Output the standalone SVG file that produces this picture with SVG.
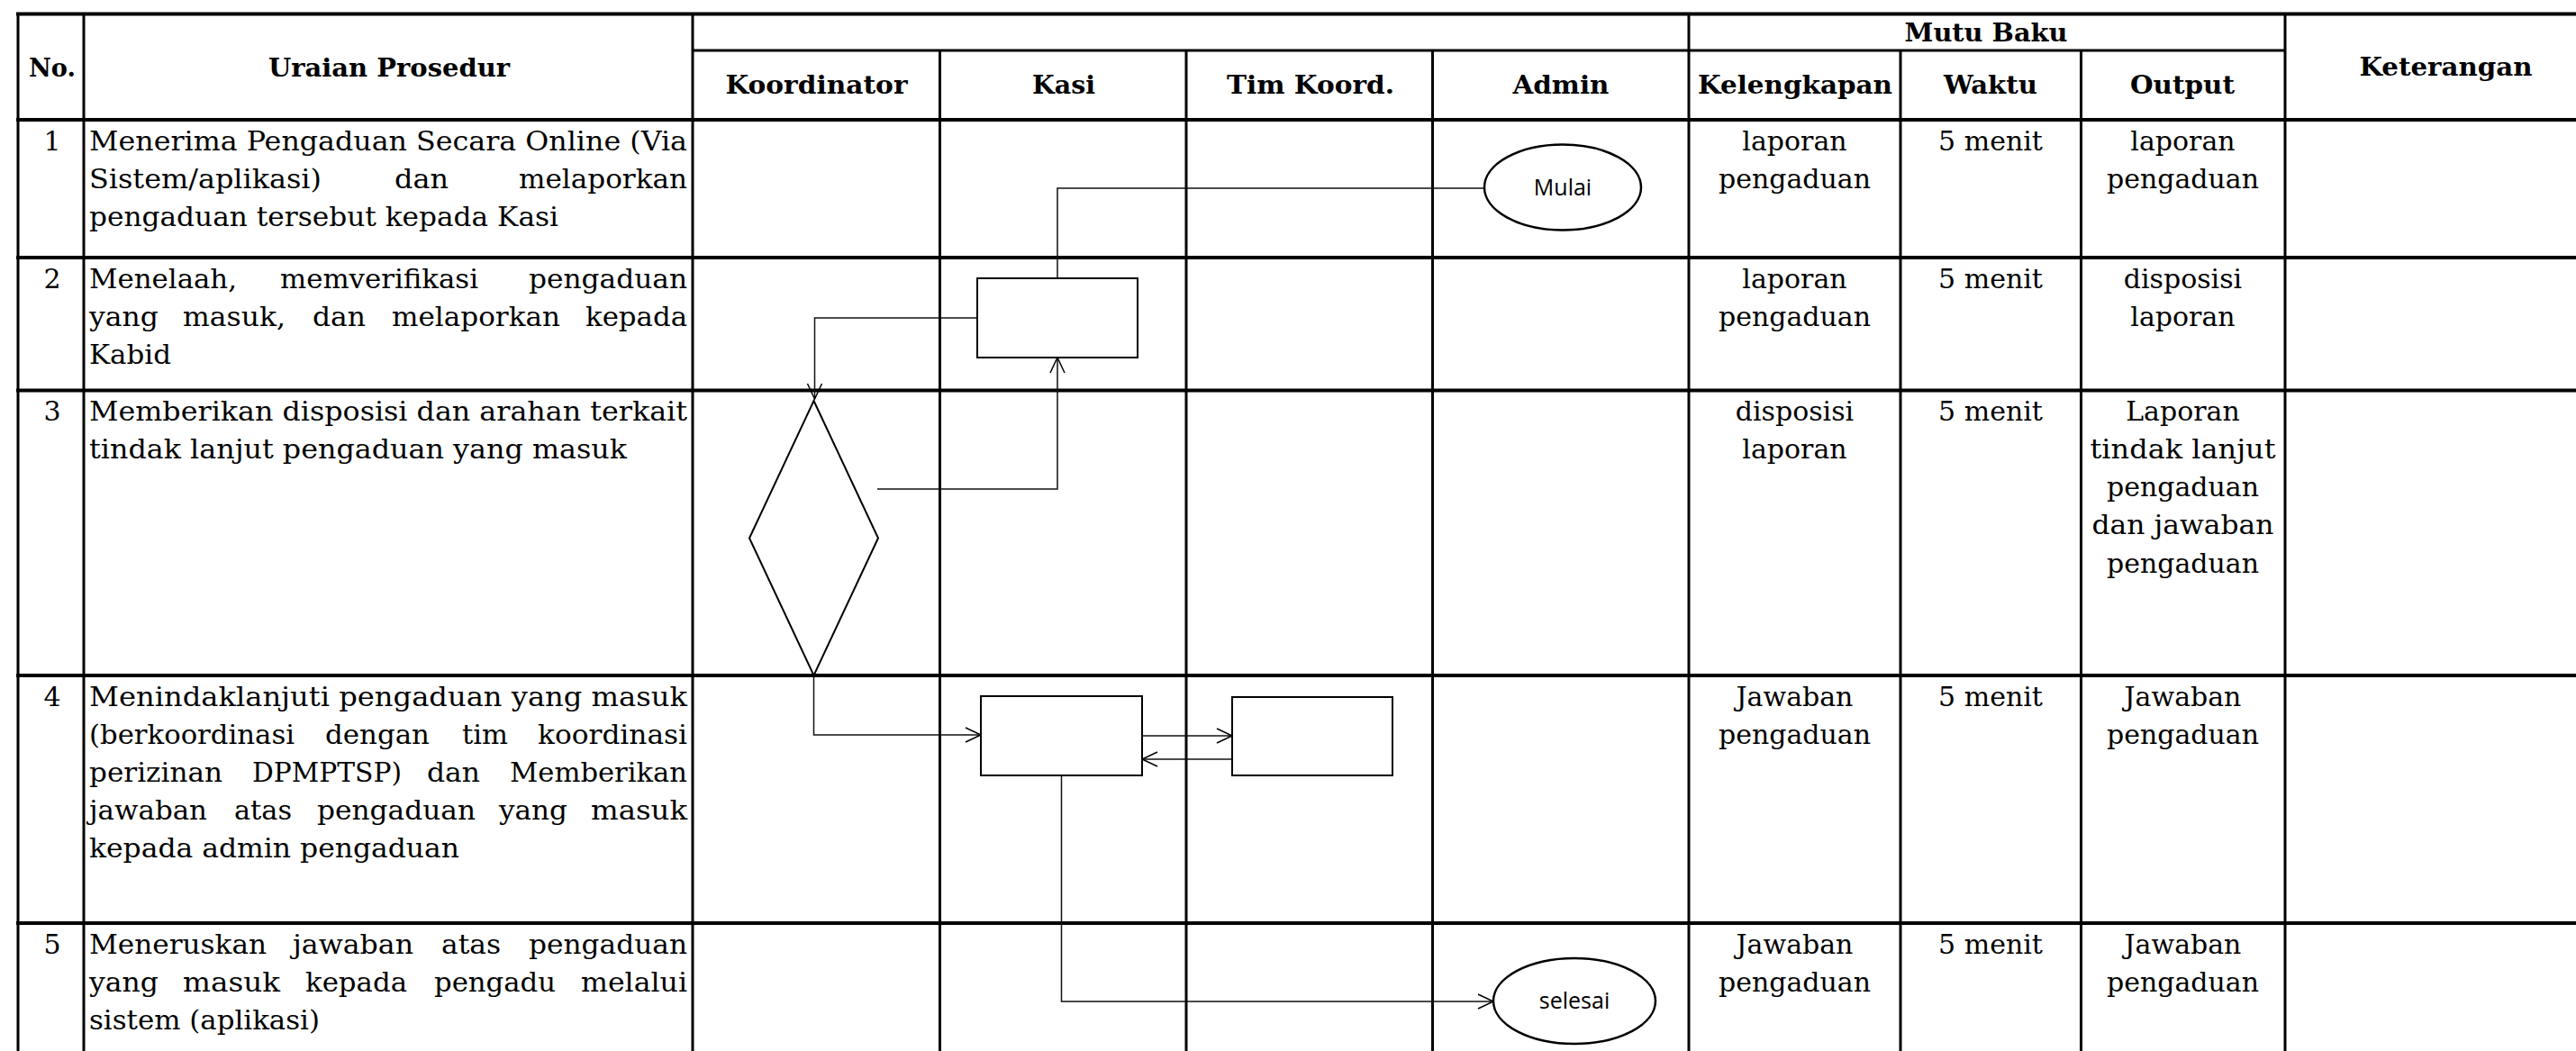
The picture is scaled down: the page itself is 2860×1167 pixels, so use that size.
<svg xmlns="http://www.w3.org/2000/svg" width="2860" height="1167" viewBox="0 0 2860 1167">
<style>
.bg{fill:#fff}
.hl{stroke:#000;stroke-width:4;fill:none}
.hs{stroke:#000;stroke-width:3;fill:none}
.vl{stroke:#000;stroke-width:3;fill:none}
.t{font-family:"DejaVu Serif","Liberation Serif",serif;font-size:30px;fill:#000}
.c{text-anchor:middle}
.h{font-family:"DejaVu Serif","Liberation Serif",serif;font-size:28px;font-weight:bold;fill:#000;text-anchor:middle}
.s{font-family:"Open Sans","Liberation Sans",sans-serif;font-size:25px;fill:#000;text-anchor:middle}
.shape{fill:#fff;stroke:#000;stroke-width:2}
.oval{fill:#fff;stroke:#000;stroke-width:2.5}
.con{fill:none;stroke:#111;stroke-width:1.5}
</style>
<defs>
<marker id="arr" markerUnits="userSpaceOnUse" markerWidth="24" markerHeight="24" viewBox="-20 -12 24 24" refX="0" refY="0" orient="auto">
<path d="M-17,-8 L0,0 L-17,8" fill="none" stroke="#000" stroke-width="1.5"/>
</marker>
</defs>
<rect class="bg" x="0" y="0" width="2860" height="1167"/>

<g id="grid">
<line class="hl" x1="18" y1="15.5" x2="2860" y2="15.5"/>
<line class="hs" x1="769" y1="56" x2="2537" y2="56"/>
<line class="hl" x1="18" y1="133" x2="2860" y2="133"/>
<line class="hl" x1="18" y1="286" x2="2860" y2="286"/>
<line class="hl" x1="18" y1="433.5" x2="2860" y2="433.5"/>
<line class="hl" x1="18" y1="750" x2="2860" y2="750"/>
<line class="hl" x1="18" y1="1025" x2="2860" y2="1025"/>
<line class="vl" x1="20" y1="14" x2="20" y2="1167"/>
<line class="vl" x1="93" y1="14" x2="93" y2="1167"/>
<line class="vl" x1="769" y1="14" x2="769" y2="1167"/>
<line class="vl" x1="1043.5" y1="56" x2="1043.5" y2="1167"/>
<line class="vl" x1="1317" y1="56" x2="1317" y2="1167"/>
<line class="vl" x1="1590.5" y1="56" x2="1590.5" y2="1167"/>
<line class="vl" x1="1875" y1="14" x2="1875" y2="1167"/>
<line class="vl" x1="2110" y1="56" x2="2110" y2="1167"/>
<line class="vl" x1="2310.5" y1="56" x2="2310.5" y2="1167"/>
<line class="vl" x1="2537" y1="14" x2="2537" y2="1167"/>
</g>

<g id="header">
<text class="h" x="58" y="85" textLength="52" lengthAdjust="spacingAndGlyphs">No.</text>
<text class="h" x="432" y="85" textLength="268" lengthAdjust="spacingAndGlyphs">Uraian Prosedur</text>
<text class="h" x="2205" y="46" textLength="181" lengthAdjust="spacingAndGlyphs">Mutu Baku</text>
<text class="h" x="2715.5" y="84" textLength="192" lengthAdjust="spacingAndGlyphs">Keterangan</text>
<text class="h" x="906.5" y="104" textLength="202" lengthAdjust="spacingAndGlyphs">Koordinator</text>
<text class="h" x="1181" y="104" textLength="70" lengthAdjust="spacingAndGlyphs">Kasi</text>
<text class="h" x="1455" y="104" textLength="186" lengthAdjust="spacingAndGlyphs">Tim Koord.</text>
<text class="h" x="1733" y="104" textLength="107" lengthAdjust="spacingAndGlyphs">Admin</text>
<text class="h" x="1993" y="104" textLength="216" lengthAdjust="spacingAndGlyphs">Kelengkapan</text>
<text class="h" x="2210" y="104" textLength="104" lengthAdjust="spacingAndGlyphs">Waktu</text>
<text class="h" x="2423" y="104" textLength="116" lengthAdjust="spacingAndGlyphs">Output</text>
</g>

<g id="row1">
<text class="t c" x="58" y="167">1</text>
<text class="t" x="99" y="167" textLength="664" lengthAdjust="spacingAndGlyphs">Menerima Pengaduan Secara Online (Via</text>
<text class="t" x="99" y="209" textLength="258" lengthAdjust="spacingAndGlyphs">Sistem/aplikasi)</text>
<text class="t" x="438" y="209" textLength="60" lengthAdjust="spacingAndGlyphs">dan</text>
<text class="t" x="576" y="209" textLength="187" lengthAdjust="spacingAndGlyphs">melaporkan</text>
<text class="t" x="99" y="251" textLength="521" lengthAdjust="spacingAndGlyphs">pengaduan tersebut kepada Kasi</text>
<text class="t c" x="1992.5" y="167">laporan</text>
<text class="t c" x="1992.5" y="209">pengaduan</text>
<text class="t c" x="2210" y="167">5 menit</text>
<text class="t c" x="2423.5" y="167">laporan</text>
<text class="t c" x="2423.5" y="209">pengaduan</text>
</g>

<g id="row2">
<text class="t c" x="58" y="320">2</text>
<text class="t" x="99" y="320" textLength="164" lengthAdjust="spacingAndGlyphs">Menelaah,</text>
<text class="t" x="311" y="320" textLength="220" lengthAdjust="spacingAndGlyphs">memverifikasi</text>
<text class="t" x="587" y="320" textLength="176" lengthAdjust="spacingAndGlyphs">pengaduan</text>
<text class="t" x="99" y="362" textLength="77" lengthAdjust="spacingAndGlyphs">yang</text>
<text class="t" x="203" y="362" textLength="114" lengthAdjust="spacingAndGlyphs">masuk,</text>
<text class="t" x="347" y="362" textLength="59" lengthAdjust="spacingAndGlyphs">dan</text>
<text class="t" x="435" y="362" textLength="187" lengthAdjust="spacingAndGlyphs">melaporkan</text>
<text class="t" x="650" y="362" textLength="113" lengthAdjust="spacingAndGlyphs">kepada</text>
<text class="t" x="99" y="404" textLength="91" lengthAdjust="spacingAndGlyphs">Kabid</text>
<text class="t c" x="1992.5" y="320">laporan</text>
<text class="t c" x="1992.5" y="362">pengaduan</text>
<text class="t c" x="2210" y="320">5 menit</text>
<text class="t c" x="2423.5" y="320">disposisi</text>
<text class="t c" x="2423.5" y="362">laporan</text>
</g>

<g id="row3">
<text class="t c" x="58" y="467">3</text>
<text class="t" x="99" y="467" textLength="664" lengthAdjust="spacingAndGlyphs">Memberikan disposisi dan arahan terkait</text>
<text class="t" x="99" y="509" textLength="597" lengthAdjust="spacingAndGlyphs">tindak lanjut pengaduan yang masuk</text>
<text class="t c" x="1992.5" y="467">disposisi</text>
<text class="t c" x="1992.5" y="509">laporan</text>
<text class="t c" x="2210" y="467">5 menit</text>
<text class="t c" x="2423.5" y="467">Laporan</text>
<text class="t c" x="2423.5" y="509" textLength="206" lengthAdjust="spacingAndGlyphs">tindak lanjut</text>
<text class="t c" x="2423.5" y="551">pengaduan</text>
<text class="t c" x="2423.5" y="593" textLength="202" lengthAdjust="spacingAndGlyphs">dan jawaban</text>
<text class="t c" x="2423.5" y="636">pengaduan</text>
</g>

<g id="row4">
<text class="t c" x="58" y="784">4</text>
<text class="t" x="99" y="784" textLength="664" lengthAdjust="spacingAndGlyphs">Menindaklanjuti pengaduan yang masuk</text>
<text class="t" x="99" y="826" textLength="228" lengthAdjust="spacingAndGlyphs">(berkoordinasi</text>
<text class="t" x="361" y="826" textLength="116" lengthAdjust="spacingAndGlyphs">dengan</text>
<text class="t" x="513" y="826" textLength="51" lengthAdjust="spacingAndGlyphs">tim</text>
<text class="t" x="597" y="826" textLength="166" lengthAdjust="spacingAndGlyphs">koordinasi</text>
<text class="t" x="99" y="868" textLength="148" lengthAdjust="spacingAndGlyphs">perizinan</text>
<text class="t" x="280" y="868" textLength="166" lengthAdjust="spacingAndGlyphs">DPMPTSP)</text>
<text class="t" x="474" y="868" textLength="59" lengthAdjust="spacingAndGlyphs">dan</text>
<text class="t" x="566" y="868" textLength="197" lengthAdjust="spacingAndGlyphs">Memberikan</text>
<text class="t" x="99" y="910" textLength="131" lengthAdjust="spacingAndGlyphs">jawaban</text>
<text class="t" x="260" y="910" textLength="64" lengthAdjust="spacingAndGlyphs">atas</text>
<text class="t" x="352" y="910" textLength="176" lengthAdjust="spacingAndGlyphs">pengaduan</text>
<text class="t" x="554" y="910" textLength="76" lengthAdjust="spacingAndGlyphs">yang</text>
<text class="t" x="656" y="910" textLength="107" lengthAdjust="spacingAndGlyphs">masuk</text>
<text class="t" x="99" y="952" textLength="411" lengthAdjust="spacingAndGlyphs">kepada admin pengaduan</text>
<text class="t c" x="1992.5" y="784">Jawaban</text>
<text class="t c" x="1992.5" y="826">pengaduan</text>
<text class="t c" x="2210" y="784">5 menit</text>
<text class="t c" x="2423.5" y="784">Jawaban</text>
<text class="t c" x="2423.5" y="826">pengaduan</text>
</g>

<g id="row5">
<text class="t c" x="58" y="1059">5</text>
<text class="t" x="99" y="1059" textLength="197" lengthAdjust="spacingAndGlyphs">Meneruskan</text>
<text class="t" x="325" y="1059" textLength="134" lengthAdjust="spacingAndGlyphs">jawaban</text>
<text class="t" x="490" y="1059" textLength="66" lengthAdjust="spacingAndGlyphs">atas</text>
<text class="t" x="587" y="1059" textLength="176" lengthAdjust="spacingAndGlyphs">pengaduan</text>
<text class="t" x="99" y="1101" textLength="77" lengthAdjust="spacingAndGlyphs">yang</text>
<text class="t" x="203" y="1101" textLength="108" lengthAdjust="spacingAndGlyphs">masuk</text>
<text class="t" x="339" y="1101" textLength="113" lengthAdjust="spacingAndGlyphs">kepada</text>
<text class="t" x="482" y="1101" textLength="135" lengthAdjust="spacingAndGlyphs">pengadu</text>
<text class="t" x="645" y="1101" textLength="118" lengthAdjust="spacingAndGlyphs">melalui</text>
<text class="t" x="99" y="1143" textLength="256" lengthAdjust="spacingAndGlyphs">sistem (aplikasi)</text>
<text class="t c" x="1992.5" y="1059">Jawaban</text>
<text class="t c" x="1992.5" y="1101">pengaduan</text>
<text class="t c" x="2210" y="1059">5 menit</text>
<text class="t c" x="2423.5" y="1059">Jawaban</text>
<text class="t c" x="2423.5" y="1101">pengaduan</text>
</g>

<g id="connectors">
<path class="con" d="M1648,209 H1174 V309"/>
<path class="con" d="M1085,353 H904.5 V443" marker-end="url(#arr)"/>
<path class="con" d="M974,543 H1174 V397" marker-end="url(#arr)"/>
<path class="con" d="M903.5,750 V816 H1089" marker-end="url(#arr)"/>
<path class="con" d="M1268,817 H1368" marker-end="url(#arr)"/>
<path class="con" d="M1368,843 H1268" marker-end="url(#arr)"/>
<path class="con" d="M1178.5,861 V1112 H1658" marker-end="url(#arr)"/>
</g>

<g id="node-mulai">
<ellipse class="oval" cx="1735" cy="208" rx="87" ry="47.5"/>
<text class="s" x="1735" y="217">Mulai</text>
</g>
<g id="node-telaah">
<rect class="shape" x="1085" y="309" width="178" height="88"/>
</g>
<g id="node-disposisi">
<polygon class="shape" points="903.5,445 975,597.5 903.5,750 832,597.5"/>
</g>
<g id="node-tindaklanjut">
<rect class="shape" x="1089" y="773" width="179" height="88"/>
</g>
<g id="node-timkoord">
<rect class="shape" x="1368" y="774" width="178" height="87"/>
</g>
<g id="node-selesai">
<ellipse class="oval" cx="1748" cy="1111.5" rx="90" ry="47.5"/>
<text class="s" x="1748" y="1120">selesai</text>
</g>
</svg>
